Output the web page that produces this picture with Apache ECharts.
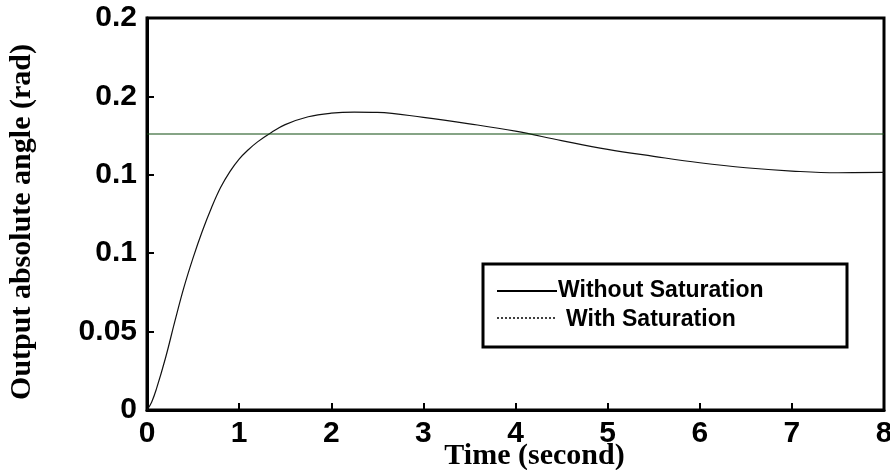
<!DOCTYPE html>
<html>
<head>
<meta charset="utf-8">
<script src="https://cdn.jsdelivr.net/npm/echarts@6/dist/echarts.min.js"></script>
<style>
  html, body { margin: 0; padding: 0; background: #fff; }
  #chart { width: 890px; height: 470px; }
</style>
</head>
<body>
<div id="chart"></div>
<script>
// time (s) and output angle (rad)
var timeValues = [0, 0.05, 0.1, 0.2, 0.3, 0.4, 0.5, 0.6, 0.7, 0.8, 0.9, 1, 1.1, 1.2, 1.35, 1.5, 1.75, 2, 2.25, 2.5, 3, 3.5, 4, 4.5, 5, 5.5, 6, 6.5, 7, 7.5, 8];
var withoutSat = [0, 0.005, 0.013, 0.033, 0.056, 0.078, 0.097, 0.114, 0.129, 0.142, 0.152, 0.160, 0.166, 0.171, 0.177, 0.182, 0.187, 0.1893, 0.1900, 0.1898, 0.1866, 0.1825, 0.1778, 0.1718, 0.1662, 0.1618, 0.1577, 0.1545, 0.1524, 0.1513, 0.1515];
var satTime = [0, 8];
var withSat = [0.176, 0.176];
var yTickValues = [0, 0.05, 0.1, 0.15, 0.2, 0.25];
var yTickLabels = ['0', '0.05', '0.1', '0.1', '0.2', '0.2'];
var legendNames = ['Without Saturation', 'With Saturation'];

function pairs(xs, ys) {
  return xs.map(function (x, i) { return [x, ys[i]]; });
}

var chart = echarts.init(document.getElementById('chart'));
chart.setOption({
  backgroundColor: '#fff',
  animation: false,
  grid: {
    left: 147, top: 18, right: 6, bottom: 60,
    outerBoundsMode: 'none', containLabel: false,
    show: true, borderColor: '#000', borderWidth: 3
  },
  xAxis: {
    type: 'value', min: 0, max: 8, interval: 1,
    name: 'Time (second)', nameLocation: 'middle', nameGap: 31,
    nameMoveOverlap: false,
    nameTextStyle: {
      fontFamily: 'Liberation Serif', fontWeight: 'bold', fontSize: 30,
      color: '#000', padding: [0, 0, 0, 38]
    },
    axisLine: { lineStyle: { color: '#000', width: 3 } },
    axisTick: { inside: true, length: 7, lineStyle: { color: '#000', width: 2 } },
    axisLabel: {
      margin: 9, color: '#000', fontFamily: 'Liberation Sans',
      fontWeight: 'bold', fontSize: 30
    },
    splitLine: { show: false }
  },
  yAxis: {
    type: 'value', min: 0, max: 0.25, interval: 0.05,
    name: 'Output absolute angle (rad)', nameLocation: 'middle', nameGap: 110,
    nameMoveOverlap: false,
    nameTextStyle: {
      fontFamily: 'Liberation Serif', fontWeight: 'bold', fontSize: 30, color: '#000',
      padding: [0, 16, 0, 0]
    },
    axisLine: { lineStyle: { color: '#000', width: 3 } },
    axisTick: { inside: true, length: 7, lineStyle: { color: '#000', width: 2 } },
    axisLabel: {
      margin: 10, color: '#000', fontFamily: 'Liberation Sans',
      fontWeight: 'bold', fontSize: 30,
      formatter: function (v) {
        for (var i = 0; i < yTickValues.length; i++) {
          if (Math.abs(yTickValues[i] - v) < 1e-9) return yTickLabels[i];
        }
        return '';
      }
    },
    splitLine: { show: false }
  },
  series: [
    {
      name: legendNames[0], type: 'line', data: pairs(timeValues, withoutSat),
      smooth: 0.4, symbol: 'none',
      lineStyle: { color: '#111', width: 1.2 }
    },
    {
      name: legendNames[1], type: 'line', data: pairs(satTime, withSat),
      symbol: 'none',
      lineStyle: { color: '#0f4a0f', width: 1.1 }
    }
  ],
  graphic: [
    {
      type: 'rect', shape: { x: 483, y: 264, width: 364, height: 83 },
      style: { fill: '#fff', stroke: '#000', lineWidth: 3 }, z: 100
    },
    {
      type: 'line', shape: { x1: 497, y1: 291, x2: 557, y2: 291 },
      style: { stroke: '#000', lineWidth: 2 }, z: 101
    },
    {
      type: 'text', x: 558, y: 291, z: 101,
      style: {
        text: legendNames[0], fill: '#000', font: 'bold 23px "Liberation Sans"',
        verticalAlign: 'middle'
      }
    },
    {
      type: 'line', shape: { x1: 497, y1: 318, x2: 555, y2: 318 },
      style: { stroke: '#000', lineWidth: 1.5, lineDash: [2, 2] }, z: 101
    },
    {
      type: 'text', x: 566, y: 320, z: 101,
      style: {
        text: legendNames[1], fill: '#000', font: 'bold 23px "Liberation Sans"',
        verticalAlign: 'middle'
      }
    }
  ]
});
</script>
</body>
</html>
